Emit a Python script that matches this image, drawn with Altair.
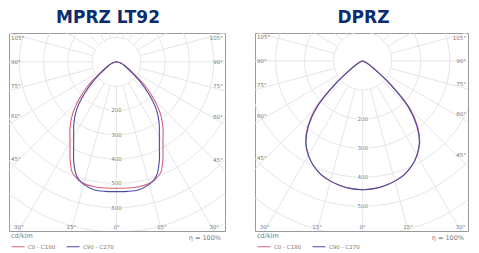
import altair as alt
import numpy as np
import pandas as pd

TITLES = ["MPRZ LT92", "DPRZ"]
SERIES = ["C0 - C180", "C90 - C270"]
COLORS = ["#d8627a", "#4b4aa6"]

GAMMA_L = [0, 5, 10, 15, 18, 20, 22, 24, 26, 30, 35, 40, 45, 50, 55, 60, 65, 70, 75, 80, 85, 90]
MPRZ_C0 = [520, 521, 522, 518, 511, 501, 489, 464, 437, 383, 334, 283, 219, 156, 90, 58, 40, 27, 17, 9, 4, 0]
MPRZ_C90 = [534, 535, 534, 522, 507, 490, 464, 435, 403, 353, 306, 255, 190, 128, 78, 50, 35, 24, 15, 8, 3.5, 0]

GAMMA_R = [0, 5, 10, 15, 20, 25, 30, 35, 40, 45, 50, 55, 60, 65, 70, 75, 80, 85, 90]
DPRZ_C0 = [443, 441, 436, 428, 417, 399, 375, 343, 294, 228, 128, 58, 28, 13, 6, 3, 1.5, 0.5, 0]
DPRZ_C90 = [443, 441, 436, 428, 417, 399, 374, 341, 290, 220, 120, 50, 24, 11, 5, 2.5, 1, 0.5, 0]

RINGS_L = [200, 300, 400, 500, 600]
RINGS_R = [200, 300, 400, 500]
SIDE_ANGLES = [105, 90, 75, 60, 45]
BOTTOM_ANGLES = [-30, -15, 0, 15, 30]
UNIT = "cd/klm"
ETA = "η = 100%"

XDOM_L, YDOM_L = [-443, 447], [-696, 119]
XDOM_R, YDOM_R = [-371, 363], [-585, 96]

H = 198
FONT = "DejaVu Sans"
GRID = "#e2e2e2"
LBL = "#7a7a7a"


def curve_df(gam, c0, c90):
    rows = []
    for name, vals in zip(SERIES, [c0, c90]):
        for g, v in zip(gam, vals):
            rows.append({"series": name, "ang": -g, "I": v})
            if g != 0:
                rows.append({"series": name, "ang": g, "I": v})
    return pd.DataFrame(rows)


def panel(title, gam, c0, c90, rings, xdom, ydom, title_dx):
    W = int(round(H * (xdom[1] - xdom[0]) / (ydom[1] - ydom[0])))
    upp = (ydom[1] - ydom[0]) / H
    xs = alt.Scale(domain=xdom, nice=False, zero=False)
    ys = alt.Scale(domain=ydom, nice=False, zero=False)
    X = lambda f: alt.X(f, scale=xs, axis=None)
    Y = lambda f: alt.Y(f, scale=ys, axis=None)

    circ = pd.DataFrame([(r, t) for r in range(100, 1100, 100) for t in range(0, 361, 3)],
                        columns=["r", "t"])
    circles = alt.Chart(circ).transform_calculate(
        x="datum.r*sin(datum.t*PI/180)", y="-datum.r*cos(datum.t*PI/180)"
    ).mark_line(color=GRID, strokeWidth=0.9, clip=True).encode(
        x=X("x:Q"), y=Y("y:Q"), detail="r:N", order="t:Q")

    rad = pd.DataFrame({"a": list(range(-180, 180, 15)), "r0": 100, "r1": 3000})
    radials = alt.Chart(rad).transform_calculate(
        x="datum.r0*sin(datum.a*PI/180)", y="-datum.r0*cos(datum.a*PI/180)",
        x2="datum.r1*sin(datum.a*PI/180)", y2="-datum.r1*cos(datum.a*PI/180)"
    ).mark_rule(color=GRID, strokeWidth=0.9, clip=True).encode(
        x=X("x:Q"), y=Y("y:Q"), x2="x2:Q", y2="y2:Q")

    ring_df = pd.DataFrame({"r": rings, "t": [str(r) for r in rings]})
    ring_base = alt.Chart(ring_df).transform_calculate(x="0", y="-datum.r")
    ring_halo = ring_base.mark_text(font=FONT, fontSize=5.5, color="white", stroke="white",
                                    strokeWidth=2.5, baseline="middle").encode(
        x=X("x:Q"), y=Y("y:Q"), text="t:N")
    ring_txt = ring_base.mark_text(font=FONT, fontSize=5.5, color=LBL, baseline="middle").encode(
        x=X("x:Q"), y=Y("y:Q"), text="t:N")

    left_rows, right_rows = [], []
    for a in SIDE_ANGLES:
        for side in (-1, 1):
            edge = xdom[0] if side < 0 else xdom[1]
            xc = abs(edge) - 8 * upp
            yl = -xc / np.tan(np.radians(a))
            if a != 90:
                yl = yl - np.sign(yl) * 3 * upp
            row = {"x": edge - side * 2 * upp, "y": yl, "t": f"{a}°"}
            (left_rows if side < 0 else right_rows).append(row)
    side_l = alt.Chart(pd.DataFrame(left_rows)).mark_text(
        font=FONT, fontSize=5.5, color=LBL, align="left", baseline="middle").encode(
        x=X("x:Q"), y=Y("y:Q"), text="t:N")
    side_r = alt.Chart(pd.DataFrame(right_rows)).mark_text(
        font=FONT, fontSize=5.5, color=LBL, align="right", baseline="middle").encode(
        x=X("x:Q"), y=Y("y:Q"), text="t:N")

    bot = pd.DataFrame({
        "x": [abs(ydom[0]) * np.tan(np.radians(a)) for a in BOTTOM_ANGLES],
        "y": [ydom[0] + 2.5 * upp] * len(BOTTOM_ANGLES),
        "t": [f"{abs(a)}°" for a in BOTTOM_ANGLES]})
    bottom = alt.Chart(bot).mark_text(font=FONT, fontSize=5.5, color=LBL, align="center",
                                      baseline="alphabetic").encode(
        x=X("x:Q"), y=Y("y:Q"), text="t:N")

    curves = alt.Chart(curve_df(gam, c0, c90)).transform_calculate(
        x="datum.I*sin(datum.ang*PI/180)", y="-datum.I*cos(datum.ang*PI/180)"
    ).mark_line(interpolate="catmull-rom", strokeWidth=1.1, clip=True).encode(
        x=X("x:Q"), y=Y("y:Q"),
        color=alt.Color("series:N", scale=alt.Scale(domain=SERIES, range=COLORS),
                        legend=alt.Legend(title=UNIT, orient="none", legendX=2, legendY=H + 2,
                                          direction="horizontal", symbolType="stroke",
                                          symbolSize=169, symbolStrokeWidth=1,
                                          labelFont=FONT, labelFontSize=5.5, labelColor=LBL,
                                          titleFont=FONT, titleFontSize=6.5, titleColor=LBL,
                                          titleFontWeight="normal", titlePadding=0,
                                          columnPadding=8, labelOffset=3, padding=0,
                                          symbolOffset=0)),
        order="ang:Q")

    eta = alt.Chart(pd.DataFrame({"t": [ETA]})).mark_text(
        font=FONT, fontSize=6.5, color=LBL, align="right", baseline="middle").encode(
        x=alt.value(W - 4), y=alt.value(H + 7), text="t:N")

    return alt.layer(circles, radials, ring_halo, ring_txt, side_l, side_r, bottom, curves, eta).properties(
        width=W, height=H,
        title=alt.TitleParams(title, font=FONT, fontSize=17, fontWeight="bold", color="#0b2d6e",
                              anchor="middle", offset=6, dx=title_dx))


left = panel(TITLES[0], GAMMA_L, MPRZ_C0, MPRZ_C90, RINGS_L, XDOM_L, YDOM_L, -9)
right = panel(TITLES[1], GAMMA_R, DPRZ_C0, DPRZ_C90, RINGS_R, XDOM_R, YDOM_R, 2)

chart = alt.hconcat(left, right, spacing=28).resolve_scale(
    x="independent", y="independent", color="independent"
).resolve_legend(color="independent").properties(
    padding={"left": 0, "top": 0, "right": 0, "bottom": 0}
).configure_view(stroke="#9a9a9a", strokeWidth=1)

chart.save("out.html", embed_options={"renderer": "svg", "actions": False})
